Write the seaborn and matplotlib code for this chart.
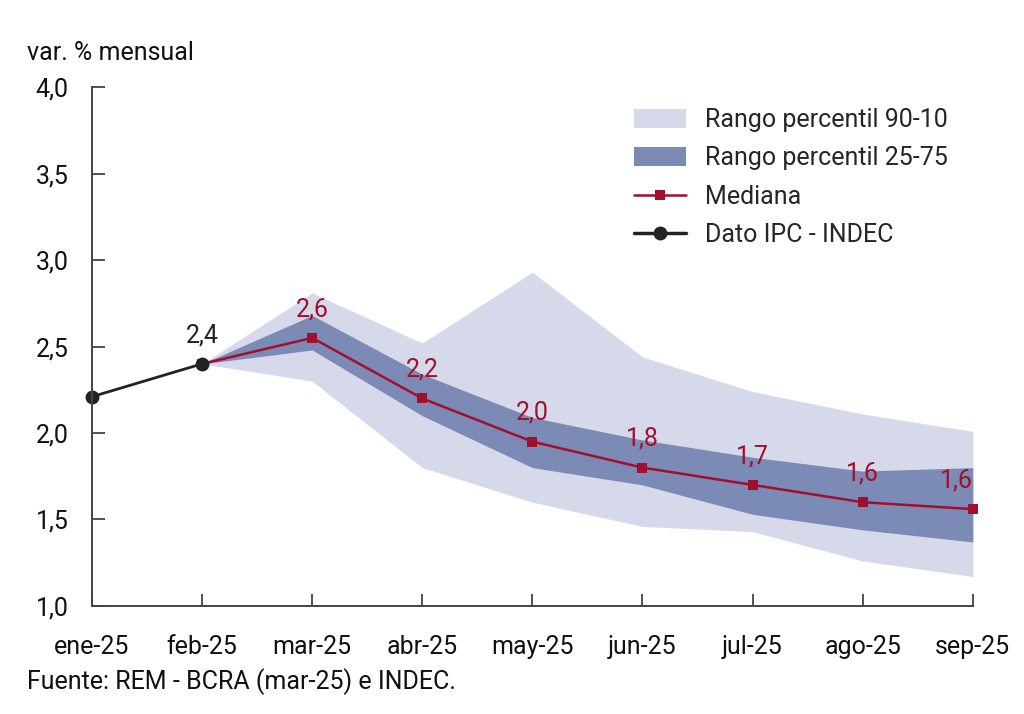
import seaborn as sns
import matplotlib.pyplot as plt
import pandas as pd
from matplotlib.patches import Patch
from matplotlib.lines import Line2D

# months on the x axis
months = ['ene-25', 'feb-25', 'mar-25', 'abr-25', 'may-25', 'jun-25', 'jul-25', 'ago-25', 'sep-25']

# observed IPC (ene, feb)
ipc = [2.21, 2.40]

# REM expectations from feb-25 to sep-25
mediana = [2.40, 2.55, 2.20, 1.95, 1.80, 1.70, 1.60, 1.56]
p25 = [2.40, 2.48, 2.10, 1.80, 1.70, 1.53, 1.44, 1.37]
p75 = [2.40, 2.68, 2.34, 2.09, 1.96, 1.86, 1.78, 1.80]
p10 = [2.40, 2.30, 1.80, 1.60, 1.46, 1.43, 1.26, 1.17]
p90 = [2.40, 2.81, 2.52, 2.93, 2.44, 2.24, 2.11, 2.01]

ipc_labels = ['', '2,4']
mediana_labels = ['', '2,6', '2,2', '2,0', '1,8', '1,7', '1,6', '1,6']

light = '#d6d9ea'
dark = '#7b8bb5'
red = '#a0102e'
black = '#222222'
fs = 18

sns.set_style('ticks')
plt.rcParams['font.family'] = ['Roboto', 'DejaVu Sans']

df_ipc = pd.DataFrame({'x': range(len(ipc)), 'y': ipc})
df_rem = pd.DataFrame({'x': range(1, len(mediana) + 1), 'med': mediana,
                       'p10': p10, 'p25': p25, 'p75': p75, 'p90': p90})

fig, ax = plt.subplots(figsize=(10.24, 7.14), dpi=100)
fig.subplots_adjust(left=0.0898, right=0.950, bottom=0.1513, top=0.878)

ax.fill_between(df_rem['x'], df_rem['p10'], df_rem['p90'], color=light, lw=0)
ax.fill_between(df_rem['x'], df_rem['p25'], df_rem['p75'], color=dark, lw=0)

sns.lineplot(data=df_rem, x='x', y='med', ax=ax, color=red, lw=1.8,
             marker='s', markersize=7.5, markeredgewidth=0, clip_on=False)
sns.lineplot(data=df_ipc, x='x', y='y', ax=ax, color=black, lw=2,
             marker='o', markersize=10, markeredgewidth=0, clip_on=False)

for i, lab in enumerate(mediana_labels):
    if lab:
        ha = 'right' if i == len(mediana_labels) - 1 else 'center'
        ax.annotate(lab, (df_rem['x'][i], mediana[i]), xytext=(0, 12),
                    textcoords='offset points', ha=ha, va='bottom',
                    color=red, fontsize=fs)
for i, lab in enumerate(ipc_labels):
    if lab:
        ax.annotate(lab, (i, ipc[i]), xytext=(0, 12), textcoords='offset points',
                    ha='center', va='bottom', color=black, fontsize=fs)

ax.set_xlim(0, len(months) - 1)
ax.set_ylim(1, 4)
ax.set_xticks(range(len(months)))
ax.set_xticklabels(months)
ax.set_yticks([1.0, 1.5, 2.0, 2.5, 3.0, 3.5, 4.0])
ax.set_yticklabels(['1,0', '1,5', '2,0', '2,5', '3,0', '3,5', '4,0'])
ax.set_xlabel('')
ax.set_ylabel('')
ax.tick_params(axis='both', direction='in', length=9, width=1.2,
               labelsize=fs, colors='#333333', labelcolor='#111111')
ax.tick_params(axis='x', pad=21)
ax.tick_params(axis='y', pad=17)
sns.despine(ax=ax)
for s in ['left', 'bottom']:
    ax.spines[s].set_color('#444444')
    ax.spines[s].set_linewidth(1.4)

handles = [
    Patch(color=light, lw=0),
    Patch(color=dark, lw=0),
    Line2D([], [], color=red, lw=1.8, marker='s', markersize=7.5, markeredgewidth=0),
    Line2D([], [], color=black, lw=2.5, marker='o', markersize=10, markeredgewidth=0),
]
names = ['Rango percentil 90-10', 'Rango percentil 25-75', 'Mediana', 'Dato IPC - INDEC']
ax.legend(handles, names, loc='upper left', bbox_to_anchor=(0.609, 0.863),
          bbox_transform=fig.transFigure, frameon=False, borderaxespad=0,
          fontsize=fs, handlelength=2.1, handleheight=0.8, handletextpad=0.76,
          labelspacing=0.58)

fig.text(0.026, 1 - 60 / 714, 'var. % mensual', fontsize=fs, ha='left', va='baseline', color='#111111')
fig.text(0.026, 1 - 689 / 714, 'Fuente: REM - BCRA (mar-25) e INDEC.', fontsize=fs,
         ha='left', va='baseline', color='#111111')

fig.savefig('out.png', dpi=100)
